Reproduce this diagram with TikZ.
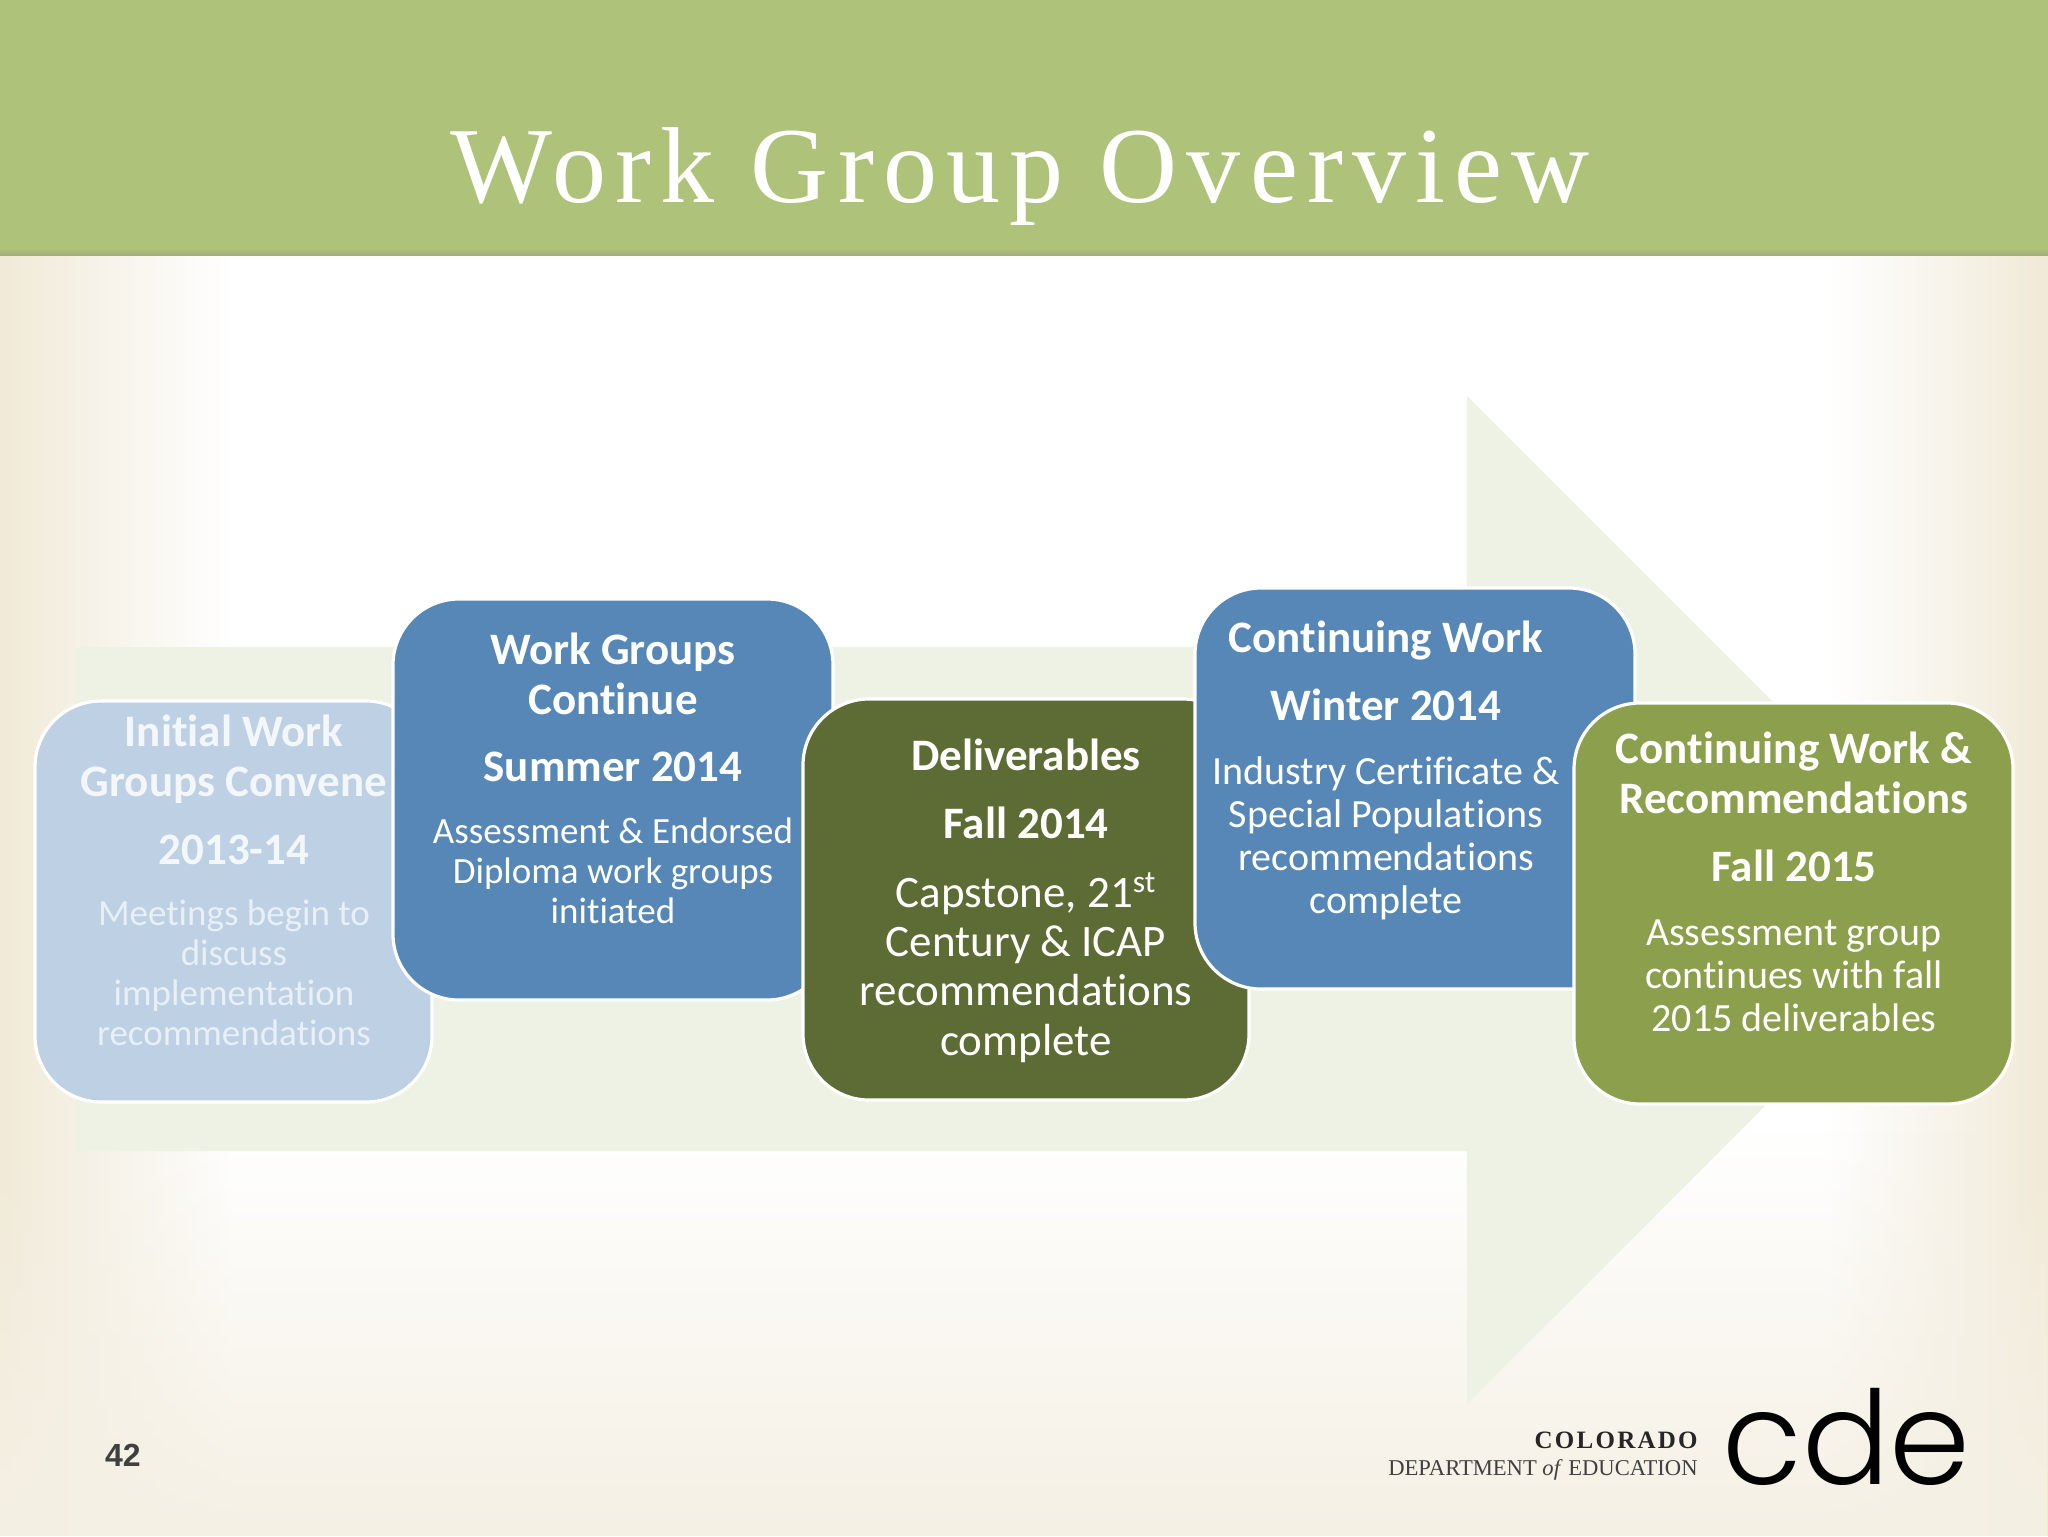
\documentclass[tikz,border=0pt]{standalone}
\usepackage{fontspec}
\setmainfont[Ligatures=NoCommon]{Carlito}
\newfontfamily\titlefont[LetterSpace=8.5]{Liberation Serif}
\newfontfamily\logoserif{Liberation Serif}
\newfontfamily\logospaced[LetterSpace=9]{Liberation Serif}
\newfontfamily\logofont{Poppins Light}
\newfontfamily\numfont{Liberation Sans}
\usetikzlibrary{fadings,shapes.misc}
\definecolor{barg}{HTML}{AFC27A}
\definecolor{bardark}{HTML}{A3AE78}
\definecolor{cream}{HTML}{F1EAD8}
\definecolor{arrowg}{HTML}{EEF2E4}
\definecolor{lblue}{HTML}{BDD0E4}
\definecolor{mblue}{HTML}{5687B7}
\definecolor{dgreen}{HTML}{5D6B34}
\definecolor{lgreen}{HTML}{8C9F4C}
\definecolor{lhead}{HTML}{F4F7FA}
\definecolor{lbody}{HTML}{E9EFF6}
\tikzfading[name=fadeL,left color=transparent!0,right color=transparent!100]
\tikzfading[name=fadeR,left color=transparent!100,right color=transparent!0]
\tikzfading[name=fadeB,top color=transparent!100,bottom color=transparent!0]
\tikzset{
  card/.style={rectangle,rounded corners=33pt,draw=white,line width=1.6pt,inner sep=0pt},
  hd/.style={anchor=base,align=center,inner sep=0pt,text=white,font=\bfseries\fontsize{22.5}{24.8}\selectfont},
  bd/.style n args={2}{anchor=base,align=center,inner sep=0pt,text=white,font=\fontsize{#1}{#2}\selectfont},
}
\begin{document}
\begin{tikzpicture}[x=0.5pt,y=-0.5pt]
\useasboundingbox (0,0) rectangle (2048,1536);
% background
\fill[white] (0,0) rectangle (2048,1536);
\fill[cream,path fading=fadeL] (0,250) rectangle (230,1536);
\fill[cream,path fading=fadeR] (1830,250) rectangle (2048,1536);
\fill[cream!70,path fading=fadeB] (0,1130) rectangle (2048,1536);
% big arrow
\fill[arrowg] (75,647) -- (1467,647) -- (1467,396) -- (1971,900) -- (1467,1404) -- (1467,1151) -- (75,1151) -- cycle;
% header bar
\fill[barg] (0,0) rectangle (2048,248);
\shade[top color=barg,bottom color=bardark] (0,248) rectangle (2048,255);
\node[anchor=base,inner sep=0pt,text=white,font=\titlefont\fontsize{54}{60}\selectfont] (title) at (1020,202) {Work Group Overview};
% card 1
\node[card,fill=lblue,minimum width=198.5pt,minimum height=200.5pt] (c1) at (233.5,901.5) {};
\node[hd,text=lhead] (c1h) at (234,796) {Initial Work\\Groups Convene};
\node[hd,text=lhead] (c1d) at (234,864) {2013-14};
\node[bd={18.5}{20},text=lbody] (c1b) at (234,1045) {Meetings begin to\\discuss\\implementation\\recommendations};
% card 2
\node[card,fill=mblue,minimum width=220pt,minimum height=200.5pt] (c2) at (613,799.5) {};
\node[hd] (c2h) at (613,714) {Work Groups\\Continue};
\node[hd] (c2d) at (613,781) {Summer 2014};
\node[bd={18.5}{20}] (c2b) at (613,923) {Assessment \& Endorsed\\Diploma work groups\\initiated};
% card 3
\node[card,fill=dgreen,minimum width=223pt,minimum height=200.5pt] (c3) at (1026,899.5) {};
\node[hd] (c3h) at (1026,770) {Deliverables};
\node[hd] (c3d) at (1026,838) {Fall 2014};
\node[bd={22.5}{24.6}] (c3b) at (1026,1055) {Capstone, 21\textsuperscript{st}\\Century \& ICAP\\recommendations\\complete};
% card 4
\node[card,fill=mblue,minimum width=220pt,minimum height=200.5pt] (c4) at (1415,788.5) {};
\node[hd] (c4h) at (1386,652) {Continuing Work};
\node[hd] (c4d) at (1386,720) {Winter 2014};
\node[bd={20}{21.5}] (c4b) at (1386,913) {Industry Certificate \&\\Special Populations\\recommendations\\complete};
% card 5
\node[card,fill=lgreen,minimum width=219.5pt,minimum height=200.5pt] (c5) at (1793.5,903.5) {};
\node[hd] (c5h) at (1794,813) {Continuing Work \&\\Recommendations};
\node[hd] (c5d) at (1794,881) {Fall 2015};
\node[bd={20}{21.5}] (c5b) at (1794,1031) {Assessment group\\continues with fall\\2015 deliverables};
% page number
\node[anchor=base,inner sep=0pt,text=black!75,font=\numfont\bfseries\fontsize{16}{18}\selectfont] (num) at (123,1466) {42};
% logo
\node[anchor=base east,inner sep=0pt,text=black!85,font=\logospaced\fontsize{12.5}{14}\selectfont\bfseries] (co) at (1698,1448) {COLORADO};
\node[anchor=base east,inner sep=0pt,text=black!75,font=\logoserif\fontsize{11.3}{13}\selectfont] (de) at (1698,1475) {DEPARTMENT \textit{of} EDUCATION};
\node[anchor=base west,inner sep=0pt,text=black,font=\logofont\fontsize{65}{72}\selectfont] (cde) at (1722,1484) {cde};
\end{tikzpicture}
\end{document}
